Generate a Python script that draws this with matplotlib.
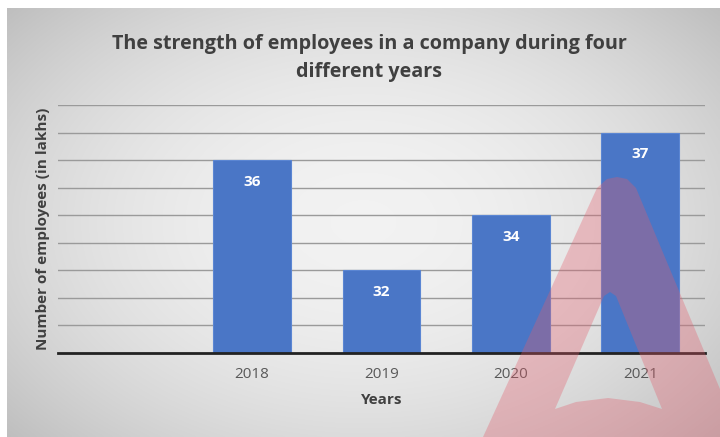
import numpy as np
import matplotlib
matplotlib.use("Agg")
import matplotlib.pyplot as plt
from matplotlib.patches import PathPatch
from matplotlib.path import Path

categories = ["", "2018", "2019", "2020", "2021"]
values = [np.nan, 36, 32, 34, 37]
title = "The strength of employees in a company during four\ndifferent years"
xlabel = "Years"
ylabel = "Number of employees (in lakhs)"

plt.rcParams['font.family'] = ['Open Sans', 'DejaVu Sans']

W, H = 720, 437
fig = plt.figure(figsize=(7.2, 4.37), dpi=100)
fig.patch.set_facecolor("white")

# background gradient panel
bg = fig.add_axes([7/W, 0, 1 - 7/W, 1 - 8/H], zorder=-5)
yy, xx = np.mgrid[-1:1:200j, -1:1:300j]
r = np.sqrt((xx * 0.9) ** 2 + (yy * 0.8) ** 2)
img = 0.95 - 0.14 * np.clip(r, 0, 1.3) ** 2
bg.imshow(np.dstack([img, img, img]), aspect="auto", extent=[0, 1, 0, 1], interpolation="bilinear")
bg.set_axis_off()

ax = fig.add_axes([58/W, 1 - 353/H, (705 - 58)/W, (353 - 105)/H])
ax.patch.set_alpha(0)
x = np.arange(len(categories))
ax.bar(x, values, width=0.6, color="#4a76c6", edgecolor="#5b86d3", linewidth=0.8, zorder=3)
ax.set_ylim(29, 38)
ax.set_xlim(-0.5, len(categories) - 0.5)
ax.set_yticks(np.arange(30, 39))
ax.yaxis.grid(True, color="#9a9a9a", linewidth=1.0, zorder=0)
ax.tick_params(axis="y", length=0, labelleft=False)
ax.tick_params(axis="x", length=0, labelsize=11, colors="#595959", pad=10)
ax.set_xticks(x)
ax.set_xticklabels(categories)
for s in ["top", "right", "left"]:
    ax.spines[s].set_visible(False)
ax.spines["bottom"].set_color("#222222")
ax.spines["bottom"].set_linewidth(2)
ax.spines["bottom"].set_zorder(4)

for xi, v in zip(x, values):
    if not np.isnan(v):
        ax.annotate(f"{int(v)}", (xi, v), xytext=(0, -15.5), textcoords="offset points",
                    ha="center", va="center", color="white", fontsize=11, fontweight="bold", zorder=5)

ax.set_xlabel(xlabel, fontsize=11, fontweight="bold", color="#404040", labelpad=8)
ax.set_ylabel(ylabel, fontsize=11, fontweight="bold", color="#404040", labelpad=6)
fig.text(0.513, 1 - 58/H, title, ha="center", va="center", fontsize=14.2, fontweight="bold",
         color="#404040", linespacing=1.6)

# watermark (logo-like "A" with notch)
def fp(px, py):
    return (px / W, 1 - py / H)

outer = [fp(483, 437), fp(597, 188), fp(607, 179), fp(617, 177), fp(627, 179), fp(636, 188),
         fp(740, 437), fp(483, 437)]
inner = [fp(555, 409), fp(576, 402), fp(608, 398), fp(640, 402), fp(662, 409), fp(616, 296),
         fp(610, 292), fp(604, 296), fp(555, 409)]
verts = outer + inner
codes = ([Path.MOVETO] + [Path.LINETO] * (len(outer) - 2) + [Path.CLOSEPOLY] +
         [Path.MOVETO] + [Path.LINETO] * (len(inner) - 2) + [Path.CLOSEPOLY])
wm = PathPatch(Path(verts, codes), transform=fig.transFigure, facecolor="#e35b6a", alpha=0.33,
               edgecolor="none", zorder=10)
fig.patches.append(wm)

fig.savefig("out.png", dpi=100)
